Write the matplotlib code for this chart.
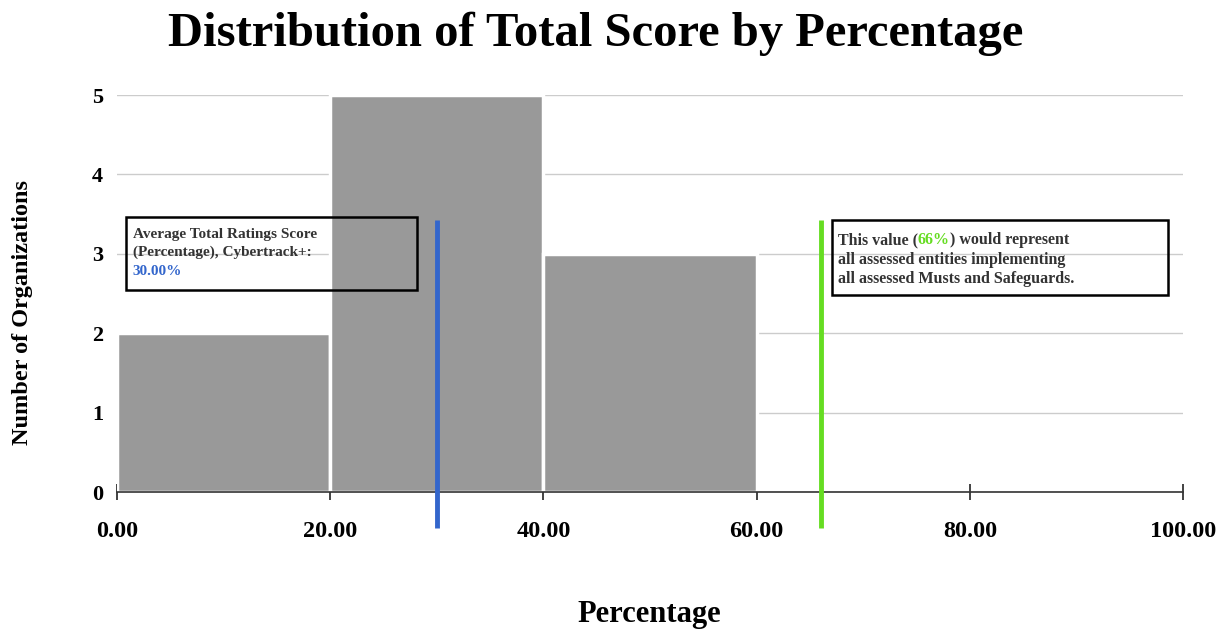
import matplotlib.pyplot as plt
from matplotlib.patches import Rectangle

plt.rcParams['font.family'] = ['Liberation Serif', 'DejaVu Serif']
plt.rcParams['font.weight'] = 'bold'

bin_edges = [0, 20, 40, 60]
org_counts = [2, 5, 3]
avg_score = 30.0
full_score = 66
x_ticks = [0, 20, 40, 60, 80, 100]
y_ticks = [0, 1, 2, 3, 4, 5]

blue = '#3366cc'
green = '#66dd22'
text_grey = '#333333'

fig = plt.figure(figsize=(12.3, 6.32), dpi=100)
ax = fig.add_axes([0.095, 0.2215, 0.867, 0.628])

lefts = bin_edges[:-1]
widths = [b - a for a, b in zip(bin_edges[:-1], bin_edges[1:])]
ax.bar(lefts, org_counts, width=widths, align='edge', color='#999999',
       edgecolor='white', linewidth=2.5, zorder=2)

ax.set_xlim(0, 100)
ax.set_ylim(0, 5)
ax.set_xticks(x_ticks)
ax.set_xticklabels([f'{v:.2f}' for v in x_ticks], fontsize=17.5, fontweight='bold')
ax.set_yticks(y_ticks)
ax.set_yticklabels([str(v) for v in y_ticks], fontsize=16, fontweight='bold')
ax.tick_params(axis='x', direction='inout', length=12, width=1.2, pad=15, color='#222222')
ax.tick_params(axis='y', length=0, pad=10)
ax.grid(axis='y', color='#cccccc', linewidth=1, zorder=0)
for side in ['top', 'right', 'left']:
    ax.spines[side].set_visible(False)
ax.spines['bottom'].set_color('#333333')
ax.spines['bottom'].set_linewidth(1.2)
ax.spines['bottom'].set_zorder(3)

# reference lines for average and full-implementation scores
ax.plot([avg_score, avg_score], [-0.45, 3.43], color=blue, linewidth=3.5,
        clip_on=False, zorder=4, solid_capstyle='butt')
ax.plot([full_score, full_score], [-0.45, 3.43], color=green, linewidth=3.5,
        clip_on=False, zorder=4, solid_capstyle='butt')

# annotation boxes
ax.add_patch(Rectangle((0.85, 2.54), 27.3, 0.92, fill=False, edgecolor='black',
                       linewidth=1.8, zorder=5))
ax.add_patch(Rectangle((67.1, 2.48), 31.5, 0.95, fill=False, edgecolor='black',
                       linewidth=1.8, zorder=5))

left_lines = ['Average Total Ratings Score', '(Percentage), Cybertrack+:']
for i, line in enumerate(left_lines):
    ax.text(1.5, 3.2 - i * 0.23, line, fontsize=11, color=text_grey,
            va='baseline', ha='left', zorder=6)
ax.text(1.5, 3.2 - 2 * 0.23, f'{avg_score:.2f}%', fontsize=11, color=blue,
        va='baseline', ha='left', zorder=6)

t1 = ax.text(67.6, 3.12, 'This value (', fontsize=11.5, color=text_grey,
             va='baseline', ha='left', zorder=6)
t2 = ax.annotate(f'{full_score}%', xy=(1, 0), xycoords=t1, fontsize=11.5,
                 color=green, va='bottom', ha='left', zorder=6)
ax.annotate(') would represent', xy=(1, 0), xycoords=t2, fontsize=11.5,
            color=text_grey, va='bottom', ha='left', zorder=6)
right_lines = ['all assessed entities implementing', 'all assessed Musts and Safeguards.']
for i, line in enumerate(right_lines):
    ax.text(67.6, 3.12 - (i + 1) * 0.243, line, fontsize=11.5, color=text_grey,
            va='baseline', ha='left', zorder=6)

fig.text(0.484, 0.947, 'Distribution of Total Score by Percentage', ha='center',
         va='center', fontsize=35, fontweight='bold')
fig.text(0.528, 0.027, 'Percentage', ha='center', va='center', fontsize=22,
         fontweight='bold')
fig.text(0.018, 0.506, 'Number of Organizations', ha='center', va='center',
         rotation=90, fontsize=17.5, fontweight='bold')

fig.savefig('out.png', dpi=100)
